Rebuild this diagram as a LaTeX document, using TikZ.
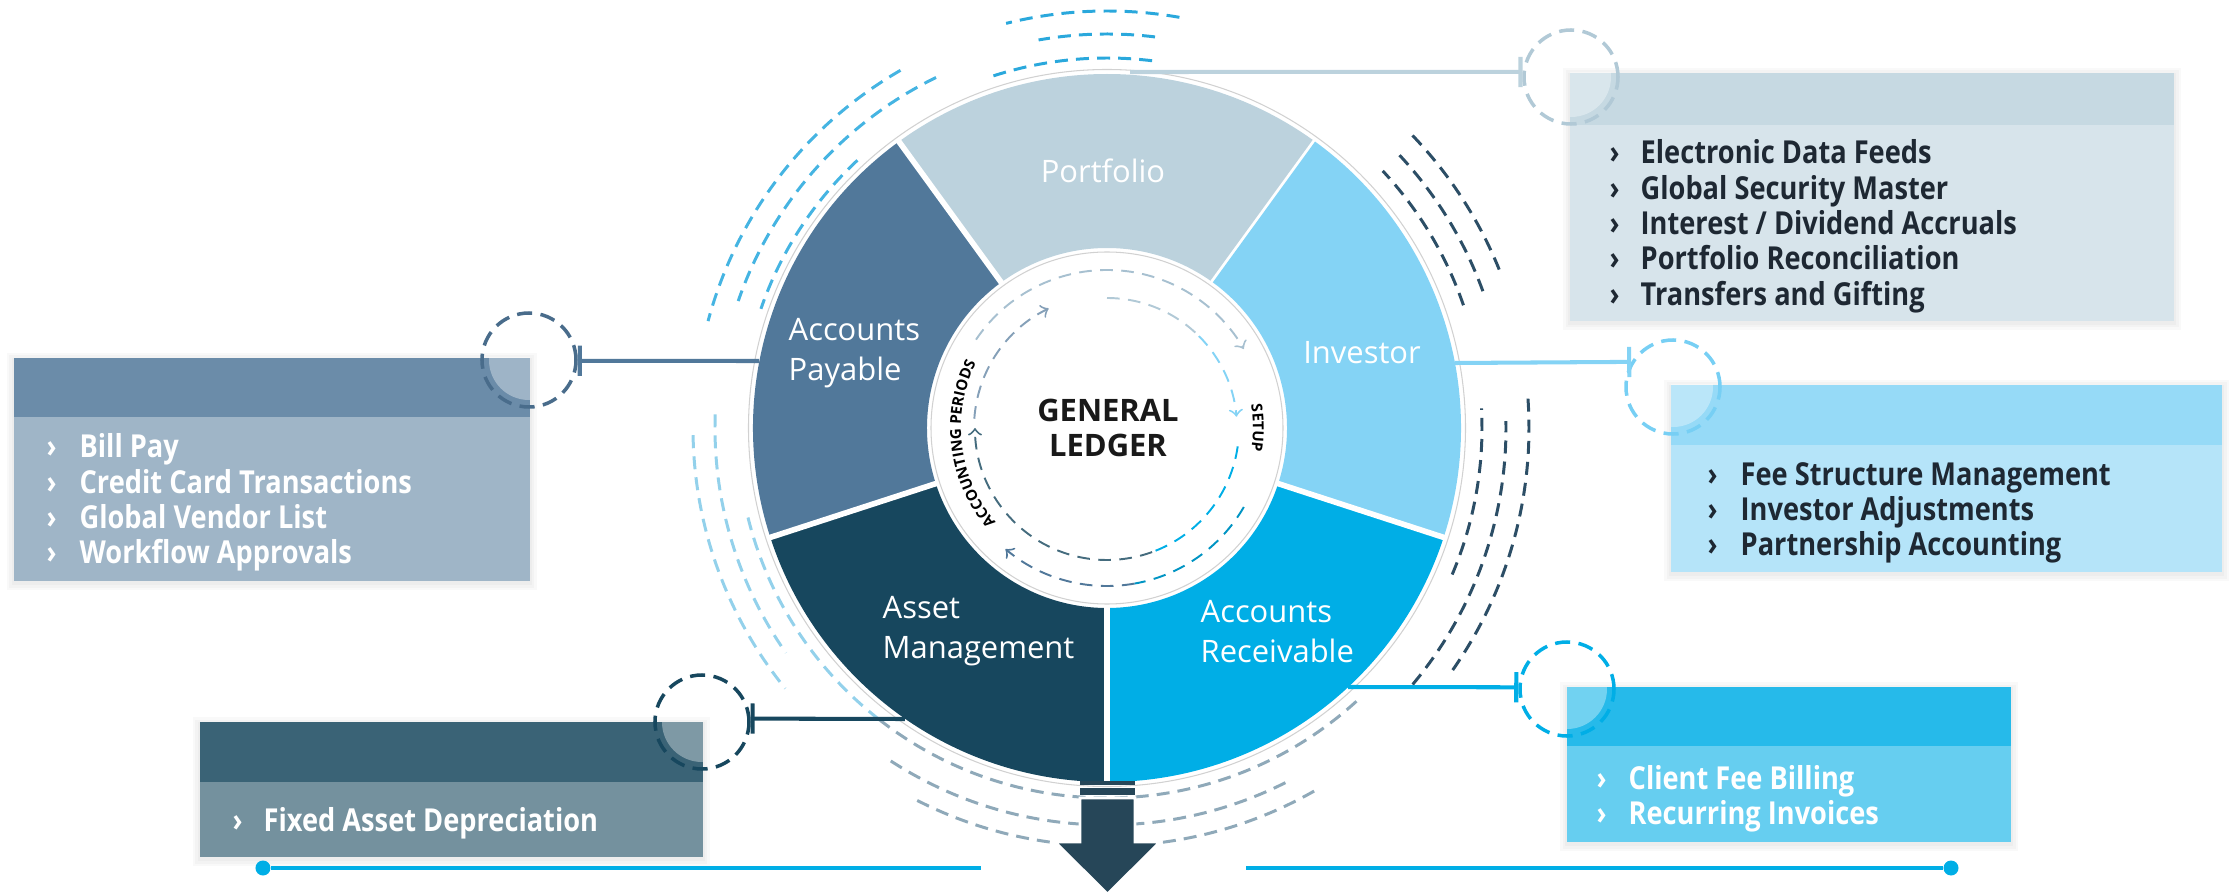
\documentclass[tikz,border=0pt]{standalone}
\usepackage{fontspec}
\setmainfont{Open Sans}
\newfontfamily\condfont{Open Sans}[FakeStretch=0.86]
\usetikzlibrary{positioning, arrows, decorations.text}

\definecolor{portfolio}{HTML}{BCD2DD}
\definecolor{payable}{HTML}{51789A}
\definecolor{assetm}{HTML}{17475E}
\definecolor{receiv}{HTML}{00AEE6}
\definecolor{investor}{HTML}{84D3F5}
\definecolor{darktext}{HTML}{1E2833}
\definecolor{arrowcol}{HTML}{264658}
\definecolor{decoblue}{HTML}{2AA8DC}
\definecolor{decomid}{HTML}{45B4E2}
\definecolor{decolight}{HTML}{93D1EB}
\definecolor{decogray}{HTML}{8FA9B9}
\definecolor{decodark}{HTML}{2C4E66}

\newcommand\curvefont{\bfseries\fontsize{4.3}{5}\selectfont}

\tikzset{
 seglabel/.style={text=white, font=\fontsize{8.8}{11.4}\selectfont, align=left, inner sep=0},
 item/.style={font=\condfont\bfseries\fontsize{9}{10}\selectfont, anchor=west, inner sep=0, text height=0.22cm, text depth=0pt},
 ring/.style={circle, draw, line width=1pt, dash pattern=on 4.3pt off 2.4pt, minimum size=0.94cm, inner sep=0},
 link/.style={line width=1.15pt, -|},
 decoarc/.style={line width=0.85pt, dash pattern=on 3.7pt off 2.3pt},
 cycarc/.style={line width=0.55pt, dash pattern=on 3.6pt off 2.4pt},
 tline/.style={receiv, line width=1.15pt},
 enddot/.style={circle, fill=receiv, minimum size=0.15cm, inner sep=0}
}

\def\Ro{3.54}
\def\Ri{1.80}

\begin{document}
\begin{tikzpicture}
 \useasboundingbox (-11.07,-4.67) rectangle (11.22,4.28);

 \foreach \rad/\from/\to/\col in {4.17/80/104/decoblue, 3.94/83/100/decoblue, 3.70/83/108/decoblue,
   4.13/120/165/decomid, 3.90/116/161/decomid, 3.66/133/161/decomid,
   4.14/181/219/decolight, 3.92/178/215/decolight, 3.70/194/232/decolight,
   4.18/243/300/decogray, 3.97/237/297/decogray, 3.70/232/313/decogray,
   4.23/22/44/decodark, 4.00/20/43/decodark, 3.77/19/43/decodark,
   4.22/-35/5/decodark, 3.99/-40/1/decodark, 3.75/-23/3/decodark} {
  \draw[decoarc, \col] (\from:\rad) arc (\from:\to:\rad);
 }

 \foreach \a/\col in {54/portfolio, 126/payable, 198/assetm, 270/receiv, 342/investor} {
  \fill[\col] (\a:\Ri) -- (\a:\Ro) arc (\a:\a+72:\Ro) -- (\a+72:\Ri) arc (\a+72:\a:\Ri) -- cycle;
  \draw[white, line width=1.6pt] (\a:\Ri-0.05) -- (\a:\Ro+0.05);
 }
 \draw[black!18, line width=0.3pt] (0,0) circle (\Ro+0.045);
 \draw[black!18, line width=0.3pt] (0,0) circle (\Ri-0.04);

 \node[seglabel] (lbl-pf) at (-0.04,2.57) {Portfolio};
 \node[seglabel, anchor=west] (lbl-ap) at (-3.19,0.75) {Accounts\\Payable};
 \node[seglabel] (lbl-inv) at (2.55,0.75) {Investor};
 \node[seglabel, anchor=west] (lbl-am) at (-2.25,-2.03) {Asset\\Management};
 \node[seglabel, anchor=west] (lbl-ar) at (0.93,-2.04) {Accounts\\Receivable};

 \node[font=\bfseries\fontsize{8.8}{10}\selectfont, align=center, text=black!90] (gl) at (0.01,0) {GENERAL\\LEDGER};

 \path[decorate, decoration={text along path, text align=center, text={|\curvefont|ACCOUNTING PERIODS}}] (232:1.46) arc (232:142:1.46);
 \path[decorate, decoration={text along path, text align=center, text={|\curvefont|SETUP}}] (25:1.46) arc (25:-25:1.46);

 \draw[cycarc, color=portfolio!80!payable, ->] (146:1.58) arc (146:30:1.58);
 \draw[cycarc, color=receiv!85!black] (-30:1.58) arc (-30:-80:1.58);
 \draw[cycarc, color=payable, ->] (-80:1.58) arc (-80:-130:1.58);
 \draw[cycarc, color=portfolio!90!payable] (90:1.30) arc (90:45:1.30);
 \draw[cycarc, color=investor, ->] (45:1.30) arc (45:5:1.30);
 \draw[cycarc, color=receiv] (-8:1.32) arc (-8:-70:1.32);
 \draw[cycarc, color=assetm!80, ->] (-70:1.32) arc (-70:-180:1.32);
 \draw[cycarc, color=payable!70, ->] (176:1.33) arc (176:116:1.33);

 \fill[arrowcol] (-0.27,-3.53) rectangle (0.28,-3.57);
 \fill[arrowcol] (-0.27,-3.60) rectangle (0.28,-3.67);
 \filldraw[arrowcol, draw=white, line width=0.8pt] (-0.27,-3.70) -- (0.28,-3.70) -- (0.28,-4.14) -- (0.53,-4.14)
  -- (0.005,-4.66) -- (-0.52,-4.14) -- (-0.27,-4.14) -- cycle;

 % boxes
 \foreach \xa/\ya/\xb/\yb in {-10.93/0.70/-5.77/-1.53, 4.63/3.55/10.67/1.07, 5.64/0.43/11.15/-1.44,
   -9.07/-2.94/-4.04/-4.29, 4.60/-2.59/9.04/-4.14} {
  \foreach \s in {0.02,0.045,0.07}
   \fill[black, opacity=0.025] (\xa-\s,\ya+\s-0.02) rectangle (\xb+\s,\yb-\s-0.02);
 }
 \fill[payable!85!white] (-10.93,0.70) rectangle (-5.77,0.11);
 \fill[payable!55!white] (-10.93,0.11) rectangle (-5.77,-1.53);
 \fill[portfolio!85!white] (4.63,3.55) rectangle (10.67,3.03);
 \fill[portfolio!60!white] (4.63,3.03) rectangle (10.67,1.07);
 \fill[investor!85!white] (5.64,0.43) rectangle (11.15,-0.17);
 \fill[investor!60!white] (5.64,-0.17) rectangle (11.15,-1.44);
 \fill[assetm!85!white] (-9.07,-2.94) rectangle (-4.04,-3.54);
 \fill[assetm!60!white] (-9.07,-3.54) rectangle (-4.04,-4.29);
 \fill[receiv!85!white] (4.60,-2.59) rectangle (9.04,-3.18);
 \fill[receiv!60!white] (4.60,-3.18) rectangle (9.04,-4.14);

 \foreach \xa/\ya/\xb/\yb/\cx/\cy in {-10.93/0.70/-5.77/0.11/-5.78/0.68, 4.63/3.55/10.67/3.03/4.64/3.51,
   5.64/0.43/11.15/-0.17/5.66/0.41, -9.07/-2.94/-4.04/-3.54/-4.05/-2.94, 4.60/-2.59/9.04/-3.18/4.60/-2.61} {
  \begin{scope}
   \clip (\xa,\ya) rectangle (\xb,\yb);
   \fill[white, opacity=0.35] (\cx,\cy) circle (0.40);
  \end{scope}
 }

 \node[ring, payable!90!black] (ap-ring) at (-5.78,0.68) {};
 \node[ring, portfolio!90!payable] (pf-ring) at (4.64,3.51) {};
 \node[ring, investor!90!receiv] (inv-ring) at (5.66,0.41) {};
 \node[ring, assetm] (am-ring) at (-4.05,-2.94) {};
 \node[ring, receiv] (ar-ring) at (4.60,-2.61) {};

 \coordinate (ap-w) at (-3.48,0.67);
 \coordinate (pf-w) at (0.23,3.56);
 \coordinate (inv-w) at (3.48,0.65);
 \coordinate (am-w) at (-2.02,-2.91);
 \coordinate (ar-w) at (2.41,-2.59);
 \draw[link, payable] (ap-w) -- (ap-ring.-1);
 \draw[link, portfolio] (pf-w) -- (pf-ring.174);
 \draw[link, investor] (inv-w) -- (inv-ring.149);
 \draw[link, assetm] (am-w) -- (am-ring.4);
 \draw[link, receiv] (ar-w) -- (ar-ring.178);

 \foreach \t [count=\i from 0] in {Bill Pay, Credit Card Transactions, Global Vendor List, Workflow Approvals}
  \node[item, text=white] (ap-\i) at (-10.61,-0.19-0.353*\i) {\makebox[0.33cm][l]{›}\t};
 \foreach \t [count=\i from 0] in {Electronic Data Feeds, Global Security Master, {Interest / Dividend Accruals}, Portfolio Reconciliation, Transfers and Gifting}
  \node[item, text=darktext] (pf-\i) at (5.02,2.75-0.353*\i) {\makebox[0.31cm][l]{›}\t};
 \foreach \t [count=\i from 0] in {Fee Structure Management, Investor Adjustments, Partnership Accounting}
  \node[item, text=darktext] (inv-\i) at (6.00,-0.46-0.353*\i) {\makebox[0.33cm][l]{›}\t};
 \node[item, text=white] (am-0) at (-8.75,-3.92) {\makebox[0.31cm][l]{›}Fixed Asset Depreciation};
 \foreach \t [count=\i from 0] in {Client Fee Billing, Recurring Invoices}
  \node[item, text=white] (ar-\i) at (4.89,-3.50-0.353*\i) {\makebox[0.32cm][l]{›}\t};

 \node[enddot] (tl-a) at (-8.44,-4.40) {};
 \coordinate (tl-b) at (-1.26,-4.40);
 \coordinate (tl-c) at (1.39,-4.40);
 \node[enddot] (tl-d) at (8.44,-4.40) {};
 \draw[tline] (tl-a) -- (tl-b);
 \draw[tline] (tl-c) -- (tl-d);
\end{tikzpicture}
\end{document}
